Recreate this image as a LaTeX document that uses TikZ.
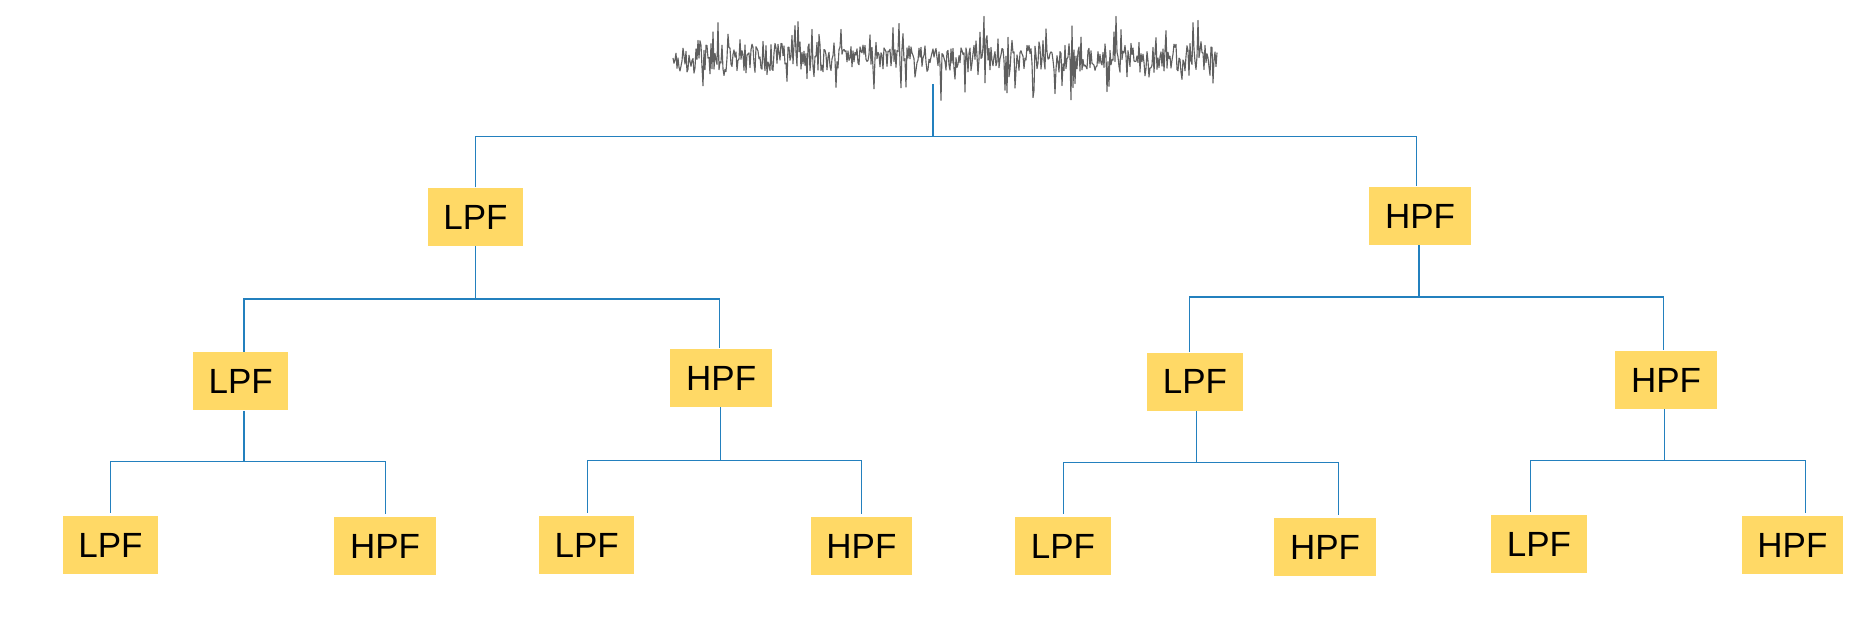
\documentclass[tikz,border=0pt]{standalone}
\usepackage{fontspec}
\setmainfont{Liberation Sans}
\definecolor{busblue}{RGB}{35,128,190}
\definecolor{boxyellow}{RGB}{255,217,102}
\definecolor{siggrey}{RGB}{95,95,95}
\begin{document}
\begin{tikzpicture}[x=0.4pt,y=-0.4pt,
  bus/.style={draw=busblue, line width=0.45pt},
  filt/.style={fill=boxyellow, inner sep=0pt, minimum height=23.2pt, text=black,
    font=\fontsize{14}{14}\selectfont},
  lpf/.style={filt, minimum width=38.2pt},
  hpf/.style={filt, minimum width=40.6pt},
  sigline/.style={draw=siggrey, line width=0.45pt, line join=round}]
\useasboundingbox (0,0) rectangle (1869,617);

% signal
\pgfmathsetseed{11}
\draw[sigline] (673,58) \foreach \i in {1,...,544} { -- ({673+\i},{58+13*rand+34*rand^5}) };
\coordinate (sigtap) at (933,84);

% filter nodes
\node[lpf] (l1)  at (475.4,217) {LPF};
\node[hpf] (h1)  at (1420,216) {HPF};
\node[lpf] (l2a) at (240.7,381.5) {LPF};
\node[hpf] (h2a) at (721.2,378) {HPF};
\node[lpf] (l2b) at (1195,381.7) {LPF};
\node[hpf] (h2b) at (1666,380) {HPF};
\node[lpf] (l3a) at (110.4,545) {LPF};
\node[hpf] (h3a) at (385,546) {HPF};
\node[lpf] (l3b) at (586.7,545) {LPF};
\node[hpf] (h3b) at (861.4,546) {HPF};
\node[lpf] (l3c) at (1063,546) {LPF};
\node[hpf] (h3c) at (1325,547) {HPF};
\node[lpf] (l3d) at (1539,544) {LPF};
\node[hpf] (h3d) at (1792.4,545) {HPF};

% bus coordinates
\coordinate (b0l) at (475.3,136.3);  \coordinate (b0r) at (1416.4,136.3); \coordinate (b0t) at (933,136.3);
\coordinate (b1l) at (244,299);      \coordinate (b1r) at (719.3,299);    \coordinate (b1t) at (475.3,299);
\coordinate (b2l) at (1189.3,297);   \coordinate (b2r) at (1663.2,297);   \coordinate (b2t) at (1419,297);
\coordinate (b3l) at (110.3,461.3);  \coordinate (b3r) at (385.7,461.3);  \coordinate (b3t) at (244,461.3);
\coordinate (b4l) at (587.3,460.3);  \coordinate (b4r) at (861.7,460.3);  \coordinate (b4t) at (720.3,460.3);
\coordinate (b5l) at (1063.3,462.7); \coordinate (b5r) at (1338.3,462.7); \coordinate (b5t) at (1196.3,462.7);
\coordinate (b6l) at (1530.3,460.3); \coordinate (b6r) at (1805.3,460.3); \coordinate (b6t) at (1664.3,460.3);

% level 0 -> 1
\draw[bus] (sigtap) -- (b0t);
\draw[bus] (b0l |- l1.north) -- (b0l) -- (b0r) -- (b0r |- h1.north);
% level 1 -> 2
\draw[bus] (b1t |- l1.south) -- (b1t);
\draw[bus] (b1l |- l2a.north) -- (b1l) -- (b1r) -- (b1r |- h2a.north);
\draw[bus] (b2t |- h1.south) -- (b2t);
\draw[bus] (b2l |- l2b.north) -- (b2l) -- (b2r) -- (b2r |- h2b.north);
% level 2 -> 3
\draw[bus] (b3t |- l2a.south) -- (b3t);
\draw[bus] ([yshift=1pt]b3l |- l3a.north) -- (b3l) -- (b3r) -- ([yshift=1pt]b3r |- h3a.north);
\draw[bus] (b4t |- h2a.south) -- (b4t);
\draw[bus] ([yshift=1pt]b4l |- l3b.north) -- (b4l) -- (b4r) -- ([yshift=1pt]b4r |- h3b.north);
\draw[bus] (b5t |- l2b.south) -- (b5t);
\draw[bus] ([yshift=1pt]b5l |- l3c.north) -- (b5l) -- (b5r) -- ([yshift=1pt]b5r |- h3c.north);
\draw[bus] (b6t |- h2b.south) -- (b6t);
\draw[bus] ([yshift=1pt]b6l |- l3d.north) -- (b6l) -- (b6r) -- ([yshift=1pt]b6r |- h3d.north);
\end{tikzpicture}
\end{document}
